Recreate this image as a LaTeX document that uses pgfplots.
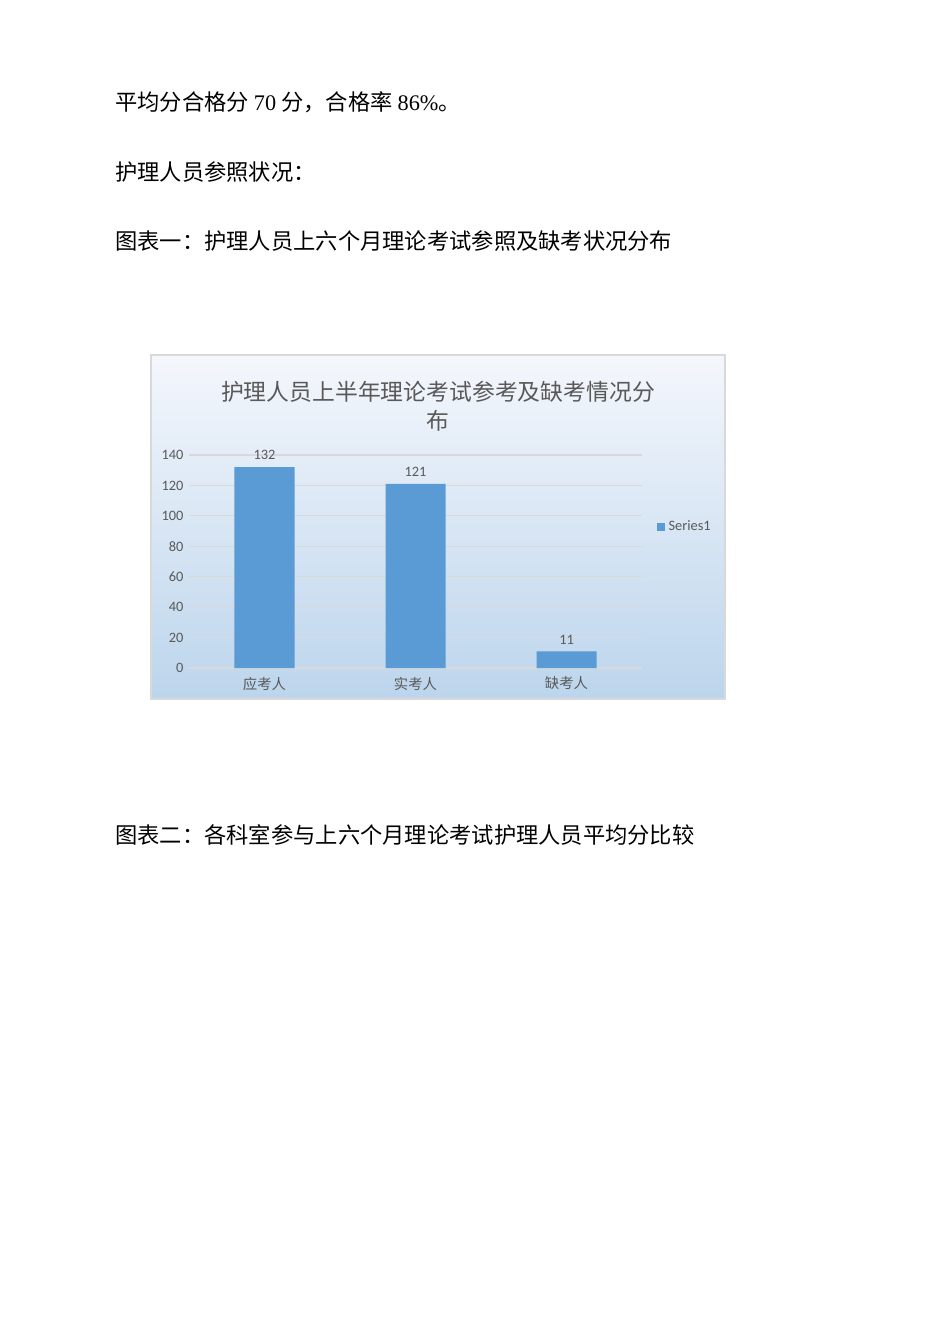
\documentclass[border=0pt]{standalone}
\usepackage{fontspec}
\usepackage{pgfplots}
\pgfplotsset{compat=1.18}
\setmainfont{Carlito}
\newfontfamily\cjk{Noto Sans CJK SC}
\newfontfamily\serif{Liberation Serif}
\definecolor{barblue}{HTML}{5B9BD5}
\definecolor{txtgray}{HTML}{595959}
\definecolor{gridgray}{HTML}{D9D9D9}
\definecolor{bgtop}{HTML}{F4F7FC}
\definecolor{bgmid}{HTML}{D6E5F4}
\definecolor{bgbot}{HTML}{BCD5EC}
\begin{document}
\begin{tikzpicture}[x=0.6262pt,y=-0.6262pt]
% page
\fill[white] (0,0) rectangle (950,1344);
% body text
\node[anchor=west,inner sep=0pt,font=\fontsize{13.95}{16}\selectfont] at (115,102)
  {\cjk 平均分合格分 {\serif 70} 分，合格率 {\serif 86\%}。};
\node[anchor=west,inner sep=0pt,font=\fontsize{13.95}{16}\selectfont] at (115,172)
  {\cjk 护理人员参照状况：};
\node[anchor=west,inner sep=0pt,font=\fontsize{13.95}{16}\selectfont] at (115,241)
  {\cjk 图表一：护理人员上六个月理论考试参照及缺考状况分布};
\node[anchor=west,inner sep=0pt,font=\fontsize{13.95}{16}\selectfont] at (115,835)
  {\cjk 图表二：各科室参与上六个月理论考试护理人员平均分比较};
% chart area
\shade[top color=bgtop,middle color=bgmid,bottom color=bgbot] (151,355) rectangle (725,699);
\draw[gridgray,line width=1pt] (151,355) rectangle (725,699);
\node[align=center,text=txtgray,inner sep=0pt,font=\fontsize{14.3}{18.2}\selectfont\cjk] at (438,406.5)
  {护理人员上半年理论考试参考及缺考情况分\\布};
\begin{axis}[
  at={({189*0.6262pt},{-668*0.6262pt})},
  anchor=south west,
  scale only axis,
  width=283.7pt,
  height=133.4pt,
  ybar,
  bar width=37.6pt,
  xmin=-0.5, xmax=2.5,
  ymin=0, ymax=140,
  xtick={0,1,2},
  xticklabels={应考人,实考人,缺考人},
  ytick={0,20,...,140},
  ymajorgrids,
  grid style={gridgray,line width=0.8pt},
  axis line style={draw=none},
  major tick length=0pt,
  tick label style={text=txtgray,font=\fontsize{9}{11}\selectfont},
  xticklabel style={font=\fontsize{9}{11}\selectfont\cjk,yshift=-2pt},
  /pgf/number format/assume math mode=true,
  nodes near coords,
  nodes near coords style={text=txtgray,font=\fontsize{9}{11}\selectfont,yshift=1pt},
  legend style={at={(1.022,0.662)},anchor=west,draw=none,fill=none,
    font=\fontsize{9}{11}\selectfont,text=txtgray,
    legend cell align=left},
  legend image code/.code={\fill[barblue] (0pt,-2.6pt) rectangle (5.2pt,2.6pt);},
]
\addplot[fill=barblue,draw=none] coordinates {(0,132) (1,121) (2,11)};
\addlegendentry{Series1}
\end{axis}
\end{tikzpicture}
\end{document}
